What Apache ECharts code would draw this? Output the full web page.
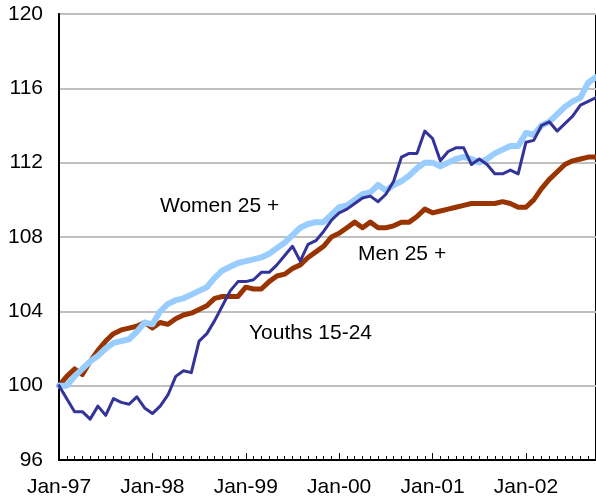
<!DOCTYPE html>
<html>
<head>
<meta charset="utf-8">
<script src="https://cdn.jsdelivr.net/npm/echarts@6/dist/echarts.min.js"></script>
<style>
  html, body { margin: 0; padding: 0; background: #fff; }
  #main { width: 596px; height: 504px; }
</style>
</head>
<body>
<div id="main"></div>
<script>
var chart = echarts.init(document.getElementById('main'));

// months Jan-97 .. Oct-02
var monthNames = ['Jan','Feb','Mar','Apr','May','Jun','Jul','Aug','Sep','Oct','Nov','Dec'];
var years = ['97','98','99','00','01','02'];
var categories = [];
for (var y = 0; y < years.length; y++) {
    for (var m = 0; m < 12; m++) {
        if (y == 5 && m > 9) break;
        categories.push(monthNames[m] + '-' + years[y]);
    }
}

var youths = [
    100.0, 99.3, 98.6, 98.6, 98.2, 98.9, 98.4, 99.3, 99.1, 99.0, 99.4, 98.8,
    98.5, 98.9, 99.5, 100.5, 100.8, 100.7, 102.4, 102.8, 103.5, 104.3, 105.1, 105.6,
    105.6, 105.7, 106.1, 106.1, 106.5, 107.0, 107.5, 106.7, 107.6, 107.8, 108.3, 108.9,
    109.3, 109.5, 109.8, 110.1, 110.2, 109.9, 110.3, 111.0, 112.3, 112.5, 112.5, 113.7,
    113.3, 112.1, 112.6, 112.8, 112.8, 111.9, 112.2, 111.9, 111.4, 111.4, 111.6, 111.4,
    113.1, 113.2, 114.0, 114.2, 113.7, 114.1, 114.5, 115.1, 115.3, 115.5
];
var women = [
    100.0, 100.0, 100.5, 100.9, 101.3, 101.6, 102.0, 102.3, 102.4, 102.5, 102.9, 103.4,
    103.3, 104.0, 104.4, 104.6, 104.7, 104.9, 105.1, 105.3, 105.8, 106.2, 106.4, 106.6,
    106.7, 106.8, 106.9, 107.1, 107.4, 107.7, 108.1, 108.5, 108.7, 108.8, 108.8, 109.2,
    109.6, 109.7, 110.0, 110.3, 110.4, 110.8, 110.5, 110.8, 111.0, 111.3, 111.7, 112.0,
    112.0, 111.8, 112.0, 112.2, 112.3, 112.2, 112.0, 112.2, 112.5, 112.7, 112.9, 112.9,
    113.6, 113.5, 114.0, 114.2, 114.6, 115.0, 115.3, 115.5, 116.3, 116.6
];
var men = [
    100.0, 100.5, 100.9, 100.6, 101.3, 101.9, 102.4, 102.8, 103.0, 103.1, 103.2, 103.4,
    103.1, 103.4, 103.3, 103.6, 103.8, 103.9, 104.1, 104.3, 104.7, 104.8, 104.8, 104.8,
    105.3, 105.2, 105.2, 105.6, 105.9, 106.0, 106.3, 106.5, 106.9, 107.2, 107.5, 108.0,
    108.2, 108.5, 108.8, 108.5, 108.8, 108.5, 108.5, 108.6, 108.8, 108.8, 109.1, 109.5,
    109.3, 109.4, 109.5, 109.6, 109.7, 109.8, 109.8, 109.8, 109.8, 109.9, 109.8, 109.6,
    109.6, 110.0, 110.6, 111.1, 111.5, 111.9, 112.1, 112.2, 112.3, 112.3
];

var fontFamily = '"Liberation Sans", Arial, sans-serif';

option = {
    animation: false,
    grid: {
        left: 59,
        top: 14,
        bottom: 44,
        right: -3,
        show: true,
        borderColor: '#000',
        borderWidth: 2
    },
    xAxis: [{
        type: 'category',
        data: categories,
        boundaryGap: false,
        axisLine: { lineStyle: { color: '#000', width: 2 } },
        axisTick: { inside: true, interval: 0, length: 4, lineStyle: { color: '#000', width: 1 } },
        axisLabel: {
            interval: 11,
            margin: 17,
            color: '#000',
            fontSize: 21,
            fontFamily: fontFamily
        },
        splitLine: { show: false }
    }, {
        type: 'category',
        data: categories,
        boundaryGap: false,
        position: 'bottom',
        axisLine: { show: false },
        axisTick: { inside: true, interval: 11, length: 7, lineStyle: { color: '#000', width: 1 } },
        axisLabel: { show: false },
        splitLine: { show: false }
    }],
    yAxis: {
        type: 'value',
        min: 96,
        max: 120,
        interval: 4,
        axisLine: { show: true, lineStyle: { color: '#000', width: 2 } },
        axisTick: { show: false },
        axisLabel: {
            margin: 16,
            color: '#000',
            fontSize: 21,
            fontFamily: fontFamily
        },
        splitLine: { lineStyle: { color: '#c0c0c0', width: 2 } }
    },
    series: [{
        name: 'Men 25 +',
        type: 'line',
        data: men,
        symbol: 'none',
        lineStyle: { color: '#993300', width: 5, join: 'round', cap: 'round' },
        z: 2
    }, {
        name: 'Women 25 +',
        type: 'line',
        data: women,
        symbol: 'none',
        lineStyle: { color: '#99ccff', width: 6, join: 'round', cap: 'round' },
        z: 3
    }, {
        name: 'Youths 15-24',
        type: 'line',
        data: youths,
        symbol: 'none',
        lineStyle: { color: '#333399', width: 3, join: 'round', cap: 'round' },
        z: 4
    }],
    graphic: [{
        type: 'text', left: 160, top: 196,
        style: { text: 'Women 25 +', fill: '#000', font: '21px ' + fontFamily }
    }, {
        type: 'text', left: 358, top: 244,
        style: { text: 'Men 25 +', fill: '#000', font: '21px ' + fontFamily }
    }, {
        type: 'text', left: 249, top: 323,
        style: { text: 'Youths 15-24', fill: '#000', font: '21px ' + fontFamily }
    }]
};

chart.setOption(option);
window.onresize = chart.resize;
</script>
</body>
</html>
